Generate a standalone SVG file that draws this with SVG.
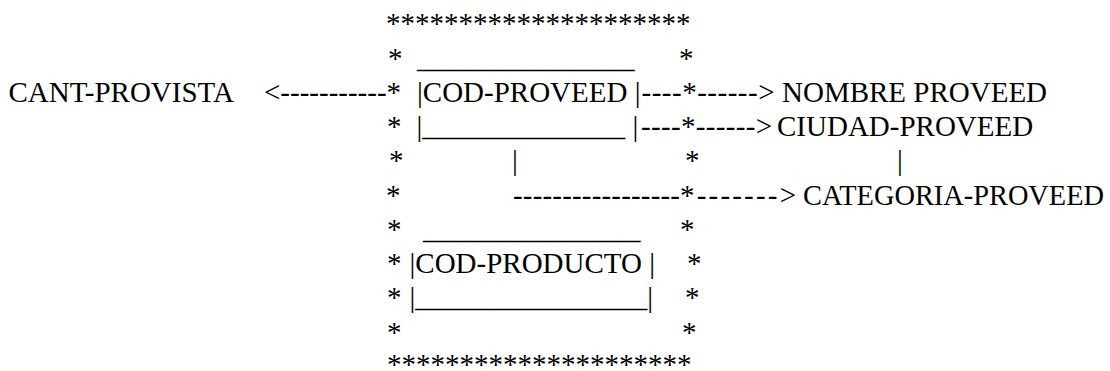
<svg xmlns="http://www.w3.org/2000/svg" width="1110" height="371" viewBox="0 0 1110 371" font-family="'Liberation Serif', 'Times New Roman', 'DejaVu Serif', serif">
<style>
text{font-family:'Liberation Serif','Times New Roman','DejaVu Serif',serif;font-size:29px;fill:#000;white-space:pre}
</style>
<rect width="1110" height="371" fill="#fff"/>
<g id="outer-box">
<text x="386" y="33">*********************</text>
<text x="388" y="67.5">*</text>
<text x="679" y="67.5">*</text>
<text x="387" y="136">*</text>
<text x="389" y="170">*</text>
<text x="685" y="170">*</text>
<text x="386" y="204.5">*</text>
<text x="387" y="238.5">*</text>
<text x="680" y="238.5">*</text>
<text x="387" y="273">*</text>
<text x="687" y="273">*</text>
<text x="387" y="307">*</text>
<text x="685" y="307">*</text>
<text x="387" y="341.5">*</text>
<text x="682" y="341.5">*</text>
<text x="387" y="373.5">*********************</text>
</g>
<g id="node-cant-provista">
<text x="8.5" y="101.5">CANT-PROVISTA</text>
</g>
<g id="node-cod-proveed">
<text x="417" y="67.5">_______________</text>
<text x="417" y="101.5">|COD-PROVEED |</text>
<text x="416.5" y="136">|______________ |</text>
</g>
<g id="node-nombre-proveed">
<text x="782" y="101.5">NOMBRE PROVEED</text>
</g>
<g id="node-ciudad-proveed">
<text x="777" y="136">CIUDAD-PROVEED</text>
</g>
<g id="node-categoria-proveed">
<text x="803" y="204.5" textLength="301" lengthAdjust="spacingAndGlyphs">CATEGORIA-PROVEED</text>
</g>
<g id="node-cod-producto">
<text x="423" y="238.5">_______________</text>
<text x="409.5" y="273">|COD-PRODUCTO |</text>
<text x="409.5" y="307">|________________|</text>
</g>
<g id="connectors">
<text x="264" y="101.5">&lt;-----------*</text>
<text x="641.5" y="101.5" textLength="133" lengthAdjust="spacing">----*------&gt;</text>
<text x="641" y="136" textLength="131" lengthAdjust="spacing">----*------&gt;</text>
<text x="512" y="170">|</text>
<text x="897" y="170">|</text>
<text x="513" y="204.5" textLength="167" lengthAdjust="spacing">-----------------</text>
<text x="680" y="204.5" textLength="116" lengthAdjust="spacing">*-------&gt;</text>
</g>
</svg>
